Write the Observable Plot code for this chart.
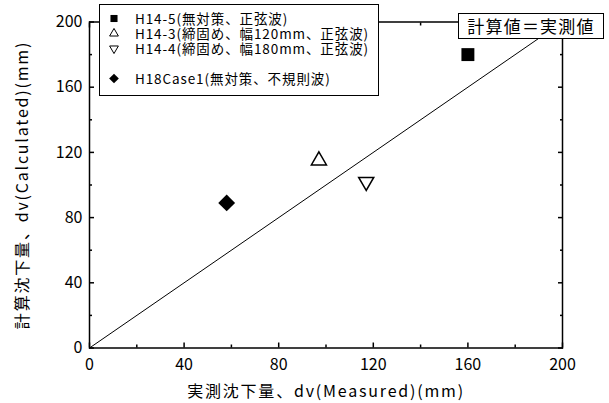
<!DOCTYPE html>
<html><head><meta charset="utf-8">
<script src="https://cdn.jsdelivr.net/npm/d3@7"></script>
<script src="https://cdn.jsdelivr.net/npm/@observablehq/plot@0.6"></script>
<style>
body{margin:0;background:#fff;}
#wrap{position:relative;width:609px;height:403px;font-family:"Noto Sans CJK JP","Noto Sans",sans-serif;color:#000;}
#legend{position:absolute;left:99px;top:4px;width:280px;height:92px;border:1.5px solid #000;background:#fff;box-sizing:border-box;font-size:13.5px;}
.row{position:absolute;left:0;width:270px;height:15px;line-height:15px;white-space:nowrap;overflow:visible;}
.row svg{position:absolute;left:6px;top:0;}
.row .lab{position:absolute;display:block;left:35px;top:0;height:15px;line-height:15px;letter-spacing:0.9px;overflow:visible;}
#eq{position:absolute;left:458px;top:13px;width:146px;height:26px;border:1.5px solid #000;background:#fff;box-sizing:border-box;font-size:17px;line-height:23px;text-align:center;letter-spacing:1.2px;}
</style></head>
<body><div id="wrap"></div>
<script>
// ---- data ----
const series = ["H14-5(無対策、正弦波)", "H14-3(締固め、幅120mm、正弦波)", "H14-4(締固め、幅180mm、正弦波)", "H18Case1(無対策、不規則波)"];
const measured = [160, 97, 117, 58];      // dv(Measured) mm
const calculated = [180, 115, 102, 89];   // dv(Calculated) mm
const majorTicks = [0, 40, 80, 120, 160, 200];
const minorTicks = [20, 60, 100, 140, 180];
const identityLine = [0, 200];
const xTitle = "実測沈下量、dv(Measured)(mm)";
const yTitle = "計算沈下量、dv(Calculated)(mm)";
const eqLabel = "計算値＝実測値";

// ---- styles ----
const styles = [
  {symbol: "square", fill: "black", stroke: "none", rotate: 0, r: 7.3},
  {symbol: "triangle2", fill: "white", stroke: "black", rotate: 0, r: 7.2},
  {symbol: "triangle2", fill: "white", stroke: "black", rotate: 180, r: 7.2},
  {symbol: "diamond2", fill: "black", stroke: "none", rotate: 0, r: 7.6}
];
const points = series.map((s, i) => ({series: s, x: measured[i], y: calculated[i], i}));

const dots = points.map(p => {
  const st = styles[p.i];
  return Plot.dot([p], {x: "x", y: "y", symbol: st.symbol, r: st.r, fill: st.fill, stroke: st.stroke, strokeWidth: 1.5, rotate: st.rotate});
});

const chart = Plot.plot({
  width: 609, height: 403,
  marginLeft: 89, marginRight: 47, marginTop: 21.5, marginBottom: 55.5,
  style: {fontFamily: '"Noto Sans CJK JP","Noto Sans",sans-serif', fontSize: "16px", background: "white", color: "black"},
  x: {domain: [0, 200]},
  y: {domain: [0, 200]},
  marks: [
    Plot.line(identityLine, {x: d => d, y: d => d, stroke: "black", strokeWidth: 1}),
    Plot.axisX(majorTicks, {anchor: "bottom", tickSize: -5, text: null, label: null, strokeWidth: 1.5}),
    Plot.axisX(minorTicks, {anchor: "bottom", tickSize: -3, text: null, label: null, strokeWidth: 1.5}),
    Plot.axisX(majorTicks, {anchor: "top", tickSize: -5, text: null, label: null, strokeWidth: 1.5}),
    Plot.axisX(minorTicks, {anchor: "top", tickSize: -3, text: null, label: null, strokeWidth: 1.5}),
    Plot.axisX(majorTicks, {anchor: "bottom", tickSize: 0, tickPadding: 11, label: null, fontSize: 16, tickFormat: d => String(d)}),
    Plot.axisY(majorTicks, {anchor: "left", tickSize: -5, text: null, label: null, strokeWidth: 1.5}),
    Plot.axisY(minorTicks, {anchor: "left", tickSize: -3, text: null, label: null, strokeWidth: 1.5}),
    Plot.axisY(majorTicks, {anchor: "right", tickSize: -5, text: null, label: null, strokeWidth: 1.5}),
    Plot.axisY(minorTicks, {anchor: "right", tickSize: -3, text: null, label: null, strokeWidth: 1.5}),
    Plot.axisY(majorTicks, {anchor: "left", tickSize: 0, tickPadding: 7, label: null, fontSize: 16, tickFormat: d => String(d)}),
    Plot.frame({stroke: "black", strokeWidth: 1.5}),
    ...dots,
    Plot.text([xTitle], {frameAnchor: "bottom", dy: 44, text: d => d, fontSize: 16, lineAnchor: "middle", textAnchor: "middle", className: "axis-title"}),
    Plot.text([yTitle], {frameAnchor: "left", dx: -67, rotate: -90, text: d => d, fontSize: 16, lineAnchor: "middle", textAnchor: "middle", className: "axis-title"})
  ]
});

d3.select(chart).selectAll(".axis-title text").attr("letter-spacing", "1.8px");

const wrap = document.getElementById("wrap");
wrap.appendChild(chart);

// legend overlay
const legend = document.createElement("div");
legend.id = "legend";
const rowTops = [6, 21, 36, 66];
const legendStyles = [
  {type: d3.symbolSquare, size: 50, fill: "black", stroke: "none", rot: 0},
  {type: d3.symbolTriangle2, size: 55, fill: "white", stroke: "black", rot: 0},
  {type: d3.symbolTriangle2, size: 55, fill: "white", stroke: "black", rot: 180},
  {type: d3.symbolDiamond2, size: 60, fill: "black", stroke: "none", rot: 0}
];
series.forEach((s, i) => {
  const row = document.createElement("div");
  row.className = "row";
  row.style.top = rowTops[i] + "px";
  const ls = legendStyles[i];
  const path = d3.symbol(ls.type, ls.size)();
  row.innerHTML = `<svg width="16" height="15"><path d="${path}" transform="translate(8,7.5) rotate(${ls.rot})" fill="${ls.fill}" stroke="${ls.stroke}" stroke-width="1"/></svg><div class="lab">${s}</div>`;
  legend.appendChild(row);
});
wrap.appendChild(legend);

const eq = document.createElement("div");
eq.id = "eq";
eq.textContent = eqLabel;
wrap.appendChild(eq);
</script>
</body></html>
